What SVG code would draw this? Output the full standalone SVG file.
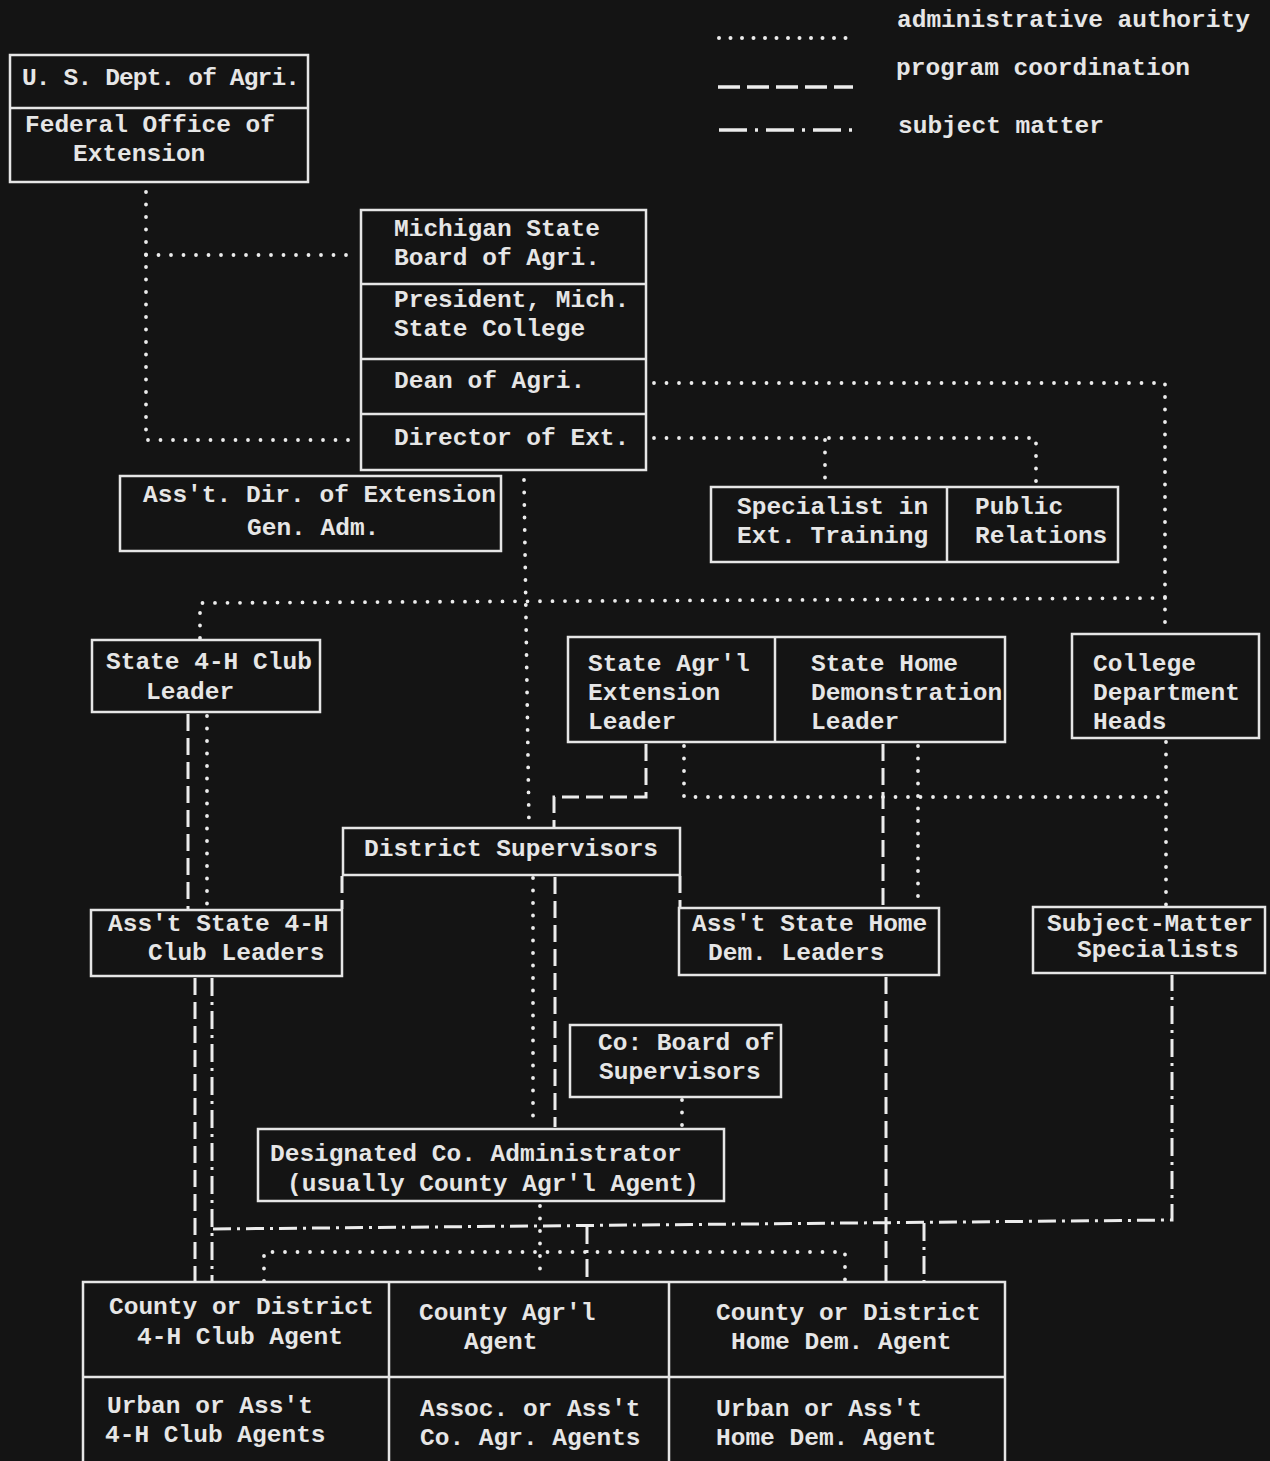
<svg xmlns="http://www.w3.org/2000/svg" width="1270" height="1461" viewBox="0 0 1270 1461">
<style>
.bg{fill:#141414}
.box{fill:none;stroke:#e6e6e6;stroke-width:2.5}
.div{stroke:#e6e6e6;stroke-width:2.5;fill:none}
text{font-family:"Liberation Mono","DejaVu Sans Mono",monospace;font-size:24.5px;font-weight:bold;fill:#e6e6e6}
.adm{fill:none;stroke:#ececec;stroke-width:3.8;stroke-linecap:round;stroke-dasharray:0 12.5}
.ladm{fill:none;stroke:#ececec;stroke-width:4;stroke-linecap:round;stroke-dasharray:0 11.5}
.prog{fill:none;stroke:#ececec;stroke-width:3;stroke-dasharray:17 7}
.subj{fill:none;stroke:#ececec;stroke-width:3;stroke-dasharray:18 6 3 6}
.lprog{fill:none;stroke:#ececec;stroke-width:3.5;stroke-dasharray:22 7}
.lsubj{fill:none;stroke:#ececec;stroke-width:3.5;stroke-dasharray:28 8 3 8}
</style>
<rect class="bg" x="0" y="0" width="1270" height="1461"/>

<g id="legend">
<path class="ladm" d="M719,38 H852"/>
<text x="897" y="27">administrative authority</text>
<path class="lprog" d="M718,87 H853"/>
<text x="896" y="75">program coordination</text>
<path class="lsubj" d="M719,130 H852"/>
<text x="898" y="133">subject matter</text>
</g>

<g id="connectors">
<!-- administrative authority (dotted) -->
<path class="adm" d="M146,192 V440 H358"/>
<path class="adm" d="M146,255 H358"/>
<path class="adm" d="M654,383 H1165 V630"/>
<path class="adm" d="M654,438 H1036 V485"/>
<path class="adm" d="M825,440 V485"/>
<path class="adm" d="M524,480 L529,826"/>
<path class="adm" d="M200,638 V603 L1165,598"/>
<path class="adm" d="M533,878 V1126"/>
<path class="adm" d="M540,1206 V1280"/>
<path class="adm" d="M684,746 V797 H1167"/>
<path class="adm" d="M1166,742 V905"/>
<path class="adm" d="M918,746 V906"/>
<path class="adm" d="M207,716 V908"/>
<path class="adm" d="M682,1100 V1127"/>
<path class="adm" d="M264,1281 V1252 H845 V1281"/>
<!-- program coordination (dashed) -->
<path class="prog" d="M646,744 V797 H554 V827"/>
<path class="prog" d="M555,877 V1127"/>
<path class="prog" d="M342,876 V909"/>
<path class="prog" d="M680,876 V907"/>
<path class="prog" d="M883,744 V906"/>
<path class="prog" d="M886,977 V1282"/>
<path class="prog" d="M188,714 V909"/>
<path class="prog" d="M195,978 V1281"/>
<!-- subject matter (dash-dot) -->
<path class="subj" d="M212,978 V1281"/>
<path class="subj" d="M213,1229 L1172,1220 V975"/>
<path class="subj" d="M587,1226 V1282"/>
<path class="subj" d="M924,1223 V1283"/>
</g>

<g id="us-dept">
<rect class="box" x="10" y="55" width="298" height="127"/>
<path class="div" d="M10,108 H308"/>
<text x="22" y="85" font-size="23" textLength="278" lengthAdjust="spacing">U. S. Dept. of Agri.</text>
<text x="25" y="132" font-size="23">Federal Office of</text>
<text x="73" y="161" font-size="23">Extension</text>
</g>

<g id="michigan-state-board">
<rect class="box" x="361" y="210" width="285" height="260"/>
<path class="div" d="M361,284 H646 M361,359 H646 M361,414 H646"/>
<text x="394" y="236">Michigan State</text>
<text x="394" y="265">Board of Agri.</text>
<text x="394" y="307">President, Mich.</text>
<text x="394" y="336">State College</text>
<text x="394" y="388">Dean of Agri.</text>
<text x="394" y="445">Director of Ext.</text>
</g>

<g id="asst-dir">
<rect class="box" x="120" y="476" width="381" height="75"/>
<text x="143" y="502">Ass't. Dir. of Extension</text>
<text x="247" y="535">Gen. Adm.</text>
</g>

<g id="specialist-public-relations">
<rect class="box" x="711" y="487" width="407" height="75"/>
<path class="div" d="M947,487 V562"/>
<text x="737" y="514">Specialist in</text>
<text x="737" y="543">Ext. Training</text>
<text x="975" y="514">Public</text>
<text x="975" y="543">Relations</text>
</g>

<g id="state-4h-leader">
<rect class="box" x="92" y="640" width="228" height="72"/>
<text x="106" y="669">State 4-H Club</text>
<text x="146" y="699">Leader</text>
</g>

<g id="state-leaders">
<rect class="box" x="568" y="637" width="437" height="105"/>
<path class="div" d="M775,637 V742"/>
<text x="588" y="671">State Agr'l</text>
<text x="588" y="700">Extension</text>
<text x="588" y="729">Leader</text>
<text x="811" y="671">State Home</text>
<text x="811" y="700">Demonstration</text>
<text x="811" y="729">Leader</text>
</g>

<g id="college-heads">
<rect class="box" x="1072" y="634" width="187" height="104"/>
<text x="1093" y="671">College</text>
<text x="1093" y="700">Department</text>
<text x="1093" y="729">Heads</text>
</g>

<g id="district-supervisors">
<rect class="box" x="343" y="828" width="337" height="47"/>
<text x="364" y="856">District Supervisors</text>
</g>

<g id="asst-state-4h">
<rect class="box" x="91" y="910" width="251" height="66"/>
<text x="108" y="931">Ass't State 4-H</text>
<text x="148" y="960">Club Leaders</text>
</g>

<g id="asst-state-home">
<rect class="box" x="679" y="908" width="260" height="67"/>
<text x="692" y="931">Ass't State Home</text>
<text x="708" y="960">Dem. Leaders</text>
</g>

<g id="subject-matter">
<rect class="box" x="1033" y="907" width="232" height="66"/>
<text x="1047" y="931">Subject-Matter</text>
<text x="1077" y="957">Specialists</text>
</g>

<g id="co-board">
<rect class="box" x="570" y="1025" width="211" height="72"/>
<text x="598" y="1050">Co: Board of</text>
<text x="599" y="1079">Supervisors</text>
</g>

<g id="designated-admin">
<rect class="box" x="258" y="1129" width="466" height="72"/>
<text x="270" y="1161">Designated Co. Administrator</text>
<text x="287" y="1191">(usually County Agr'l Agent)</text>
</g>

<g id="county-agents">
<rect class="box" x="83" y="1282" width="922" height="200"/>
<path class="div" d="M83,1377 H1005 M389,1282 V1470 M669,1282 V1470"/>
<text x="109" y="1314">County or District</text>
<text x="137" y="1344">4-H Club Agent</text>
<text x="419" y="1320">County Agr'l</text>
<text x="464" y="1349">Agent</text>
<text x="716" y="1320">County or District</text>
<text x="731" y="1349">Home Dem. Agent</text>
<text x="107" y="1413">Urban or Ass't</text>
<text x="105" y="1442">4-H Club Agents</text>
<text x="420" y="1416">Assoc. or Ass't</text>
<text x="420" y="1445">Co. Agr. Agents</text>
<text x="716" y="1416">Urban or Ass't</text>
<text x="716" y="1445">Home Dem. Agent</text>
</g>
</svg>
